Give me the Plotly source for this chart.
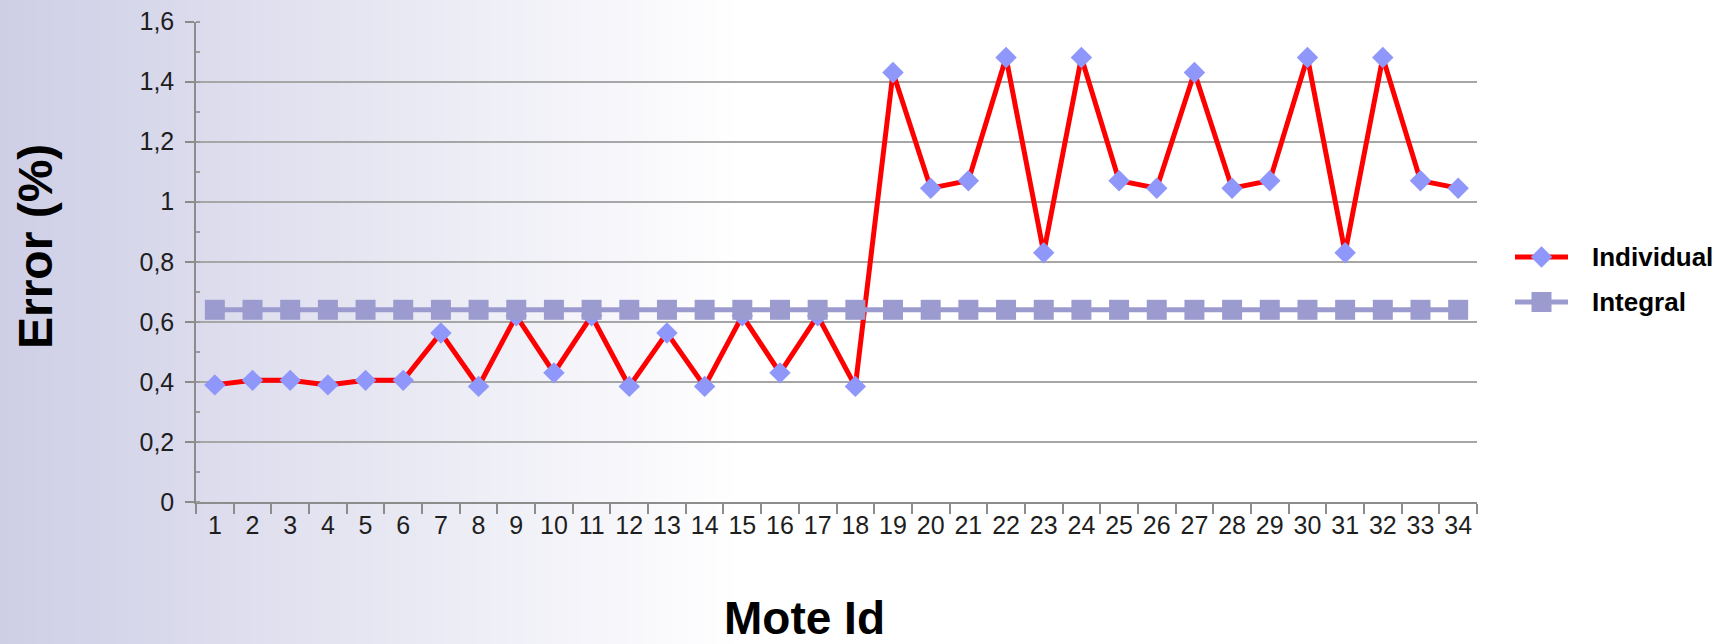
import base64
import struct
import zlib

import plotly.graph_objects as go

# ---- data ---------------------------------------------------------------
mote_ids = [str(i) for i in range(1, 35)]

individual = [
    0.39, 0.405, 0.405, 0.39, 0.405, 0.405, 0.563, 0.385, 0.62, 0.43,
    0.62, 0.385, 0.563, 0.385, 0.62, 0.43, 0.62, 0.385, 1.43, 1.045,
    1.07, 1.48, 0.83, 1.48, 1.07, 1.045, 1.43, 1.045, 1.07, 1.48,
    0.83, 1.48, 1.07, 1.045,
]

integral = [0.64] * 34

y_ticks = [0, 0.2, 0.4, 0.6, 0.8, 1.0, 1.2, 1.4, 1.6]

# ---- page geometry (pixels) ----------------------------------------------
W, H = 1728, 644
PLOT_L, PLOT_R = 196, 1477
PLOT_T, PLOT_B = 21.5, 502

FONT = "Liberation Sans, Arial, Helvetica, sans-serif"
RED = "#ff0000"
DIAMOND = "#8f97fb"
LAVENDER = "#9b9bcf"
GRID = "#a6a6a6"


def gradient_png(width, left_rgb, fade_to):
    """One-row PNG that fades from left_rgb to white over fade_to pixels."""
    row = bytearray(b"\x00")
    for x in range(width):
        t = min(x / fade_to, 1.0)
        row += bytes(round(c + (255 - c) * t) for c in left_rgb)

    def chunk(tag, data):
        return (struct.pack(">I", len(data)) + tag + data
                + struct.pack(">I", zlib.crc32(tag + data) & 0xFFFFFFFF))

    png = (b"\x89PNG\r\n\x1a\n"
           + chunk(b"IHDR", struct.pack(">IIBBBBB", width, 1, 8, 2, 0, 0, 0))
           + chunk(b"IDAT", zlib.compress(bytes(row)))
           + chunk(b"IEND", b""))
    return "data:image/png;base64," + base64.b64encode(png).decode()


fig = go.Figure()

fig.add_trace(go.Scatter(
    x=mote_ids, y=individual, name="Individual", mode="lines+markers",
    line=dict(color=RED, width=5),
    marker=dict(symbol="diamond", size=16.5, color=DIAMOND),
    showlegend=False,
))
fig.add_trace(go.Scatter(
    x=mote_ids, y=integral, name="Integral", mode="lines+markers",
    line=dict(color=LAVENDER, width=5),
    marker=dict(symbol="square", size=20, color=LAVENDER),
    showlegend=False,
))

# legend drawn on a full-page pixel overlay
LEG_X0, LEG_X1, LEG_TXT = 1515, 1568, 1590
legend_rows = [
    ("Individual", 257, RED, "diamond", 16.5, DIAMOND),
    ("Integral", 302, LAVENDER, "square", 20, LAVENDER),
]
for label, ly, lcol, sym, msize, mcol in legend_rows:
    fig.add_trace(go.Scatter(
        x=[LEG_X0, LEG_X1], y=[ly, ly], mode="lines",
        line=dict(color=lcol, width=5), xaxis="x2", yaxis="y2",
        showlegend=False, hoverinfo="skip",
    ))
    fig.add_trace(go.Scatter(
        x=[(LEG_X0 + LEG_X1) / 2], y=[ly], mode="markers",
        marker=dict(symbol=sym, size=msize, color=mcol),
        xaxis="x2", yaxis="y2", showlegend=False, hoverinfo="skip",
    ))
    fig.add_annotation(
        text=label, x=LEG_TXT / W, y=1 - ly / H, xref="paper", yref="paper",
        xanchor="left", yanchor="middle", showarrow=False,
        font=dict(family=FONT, size=26, color="#000000", weight=700),
    )

# axis titles
fig.add_annotation(
    text="Error (%)", x=36 / W, y=1 - 247 / H, xref="paper", yref="paper",
    xanchor="center", yanchor="middle", textangle=-90, showarrow=False,
    font=dict(family=FONT, size=48, color="#000000", weight=700),
)
fig.add_annotation(
    text="Mote Id", x=804 / W, y=1 - 618 / H, xref="paper", yref="paper",
    xanchor="center", yanchor="middle", showarrow=False,
    font=dict(family=FONT, size=46, color="#000000", weight=700),
)

fig.update_layout(
    width=W, height=H,
    margin=dict(l=0, r=0, t=0, b=0, autoexpand=False),
    separators=",.",
    paper_bgcolor="#ffffff",
    plot_bgcolor="rgba(0,0,0,0)",
    font=dict(family=FONT, size=25, color="#1e1e1e"),
    images=[dict(
        source=gradient_png(W, (206, 206, 230), 740),
        xref="paper", yref="paper", x=0, y=1, sizex=1, sizey=1,
        xanchor="left", yanchor="top", sizing="stretch", layer="below",
    )],
    xaxis=dict(
        type="category", domain=[PLOT_L / W, PLOT_R / W],
        range=[-0.5, 33.5], tickson="boundaries", automargin=False,
        ticks="outside", ticklen=10, tickwidth=1.5, tickcolor="#8c8c8c",
        showline=True, linecolor="#8c8c8c", linewidth=1.5,
        showgrid=False, zeroline=False,
        tickfont=dict(family=FONT, size=25, color="#1e1e1e"),
    ),
    yaxis=dict(
        domain=[1 - PLOT_B / H, 1 - PLOT_T / H],
        range=[0, 1.6], tickvals=y_ticks, automargin=False,
        ticks="outside", ticklen=9, tickwidth=1.5, tickcolor="#8c8c8c",
        showline=True, linecolor="#8c8c8c", linewidth=1.5,
        showgrid=True, gridcolor=GRID, gridwidth=1.5,
        zeroline=False, ticklabelstandoff=6,
        minor=dict(ticks="inside", ticklen=4, dtick=0.1,
                   tickcolor="#9a9a9a", showgrid=False),
        tickfont=dict(family=FONT, size=25, color="#1e1e1e"),
    ),
    xaxis2=dict(domain=[0, 1], range=[0, W], visible=False,
                fixedrange=True, automargin=False),
    yaxis2=dict(domain=[0, 1], range=[H, 0], visible=False,
                fixedrange=True, automargin=False),
)

fig.write_html("out.html")
